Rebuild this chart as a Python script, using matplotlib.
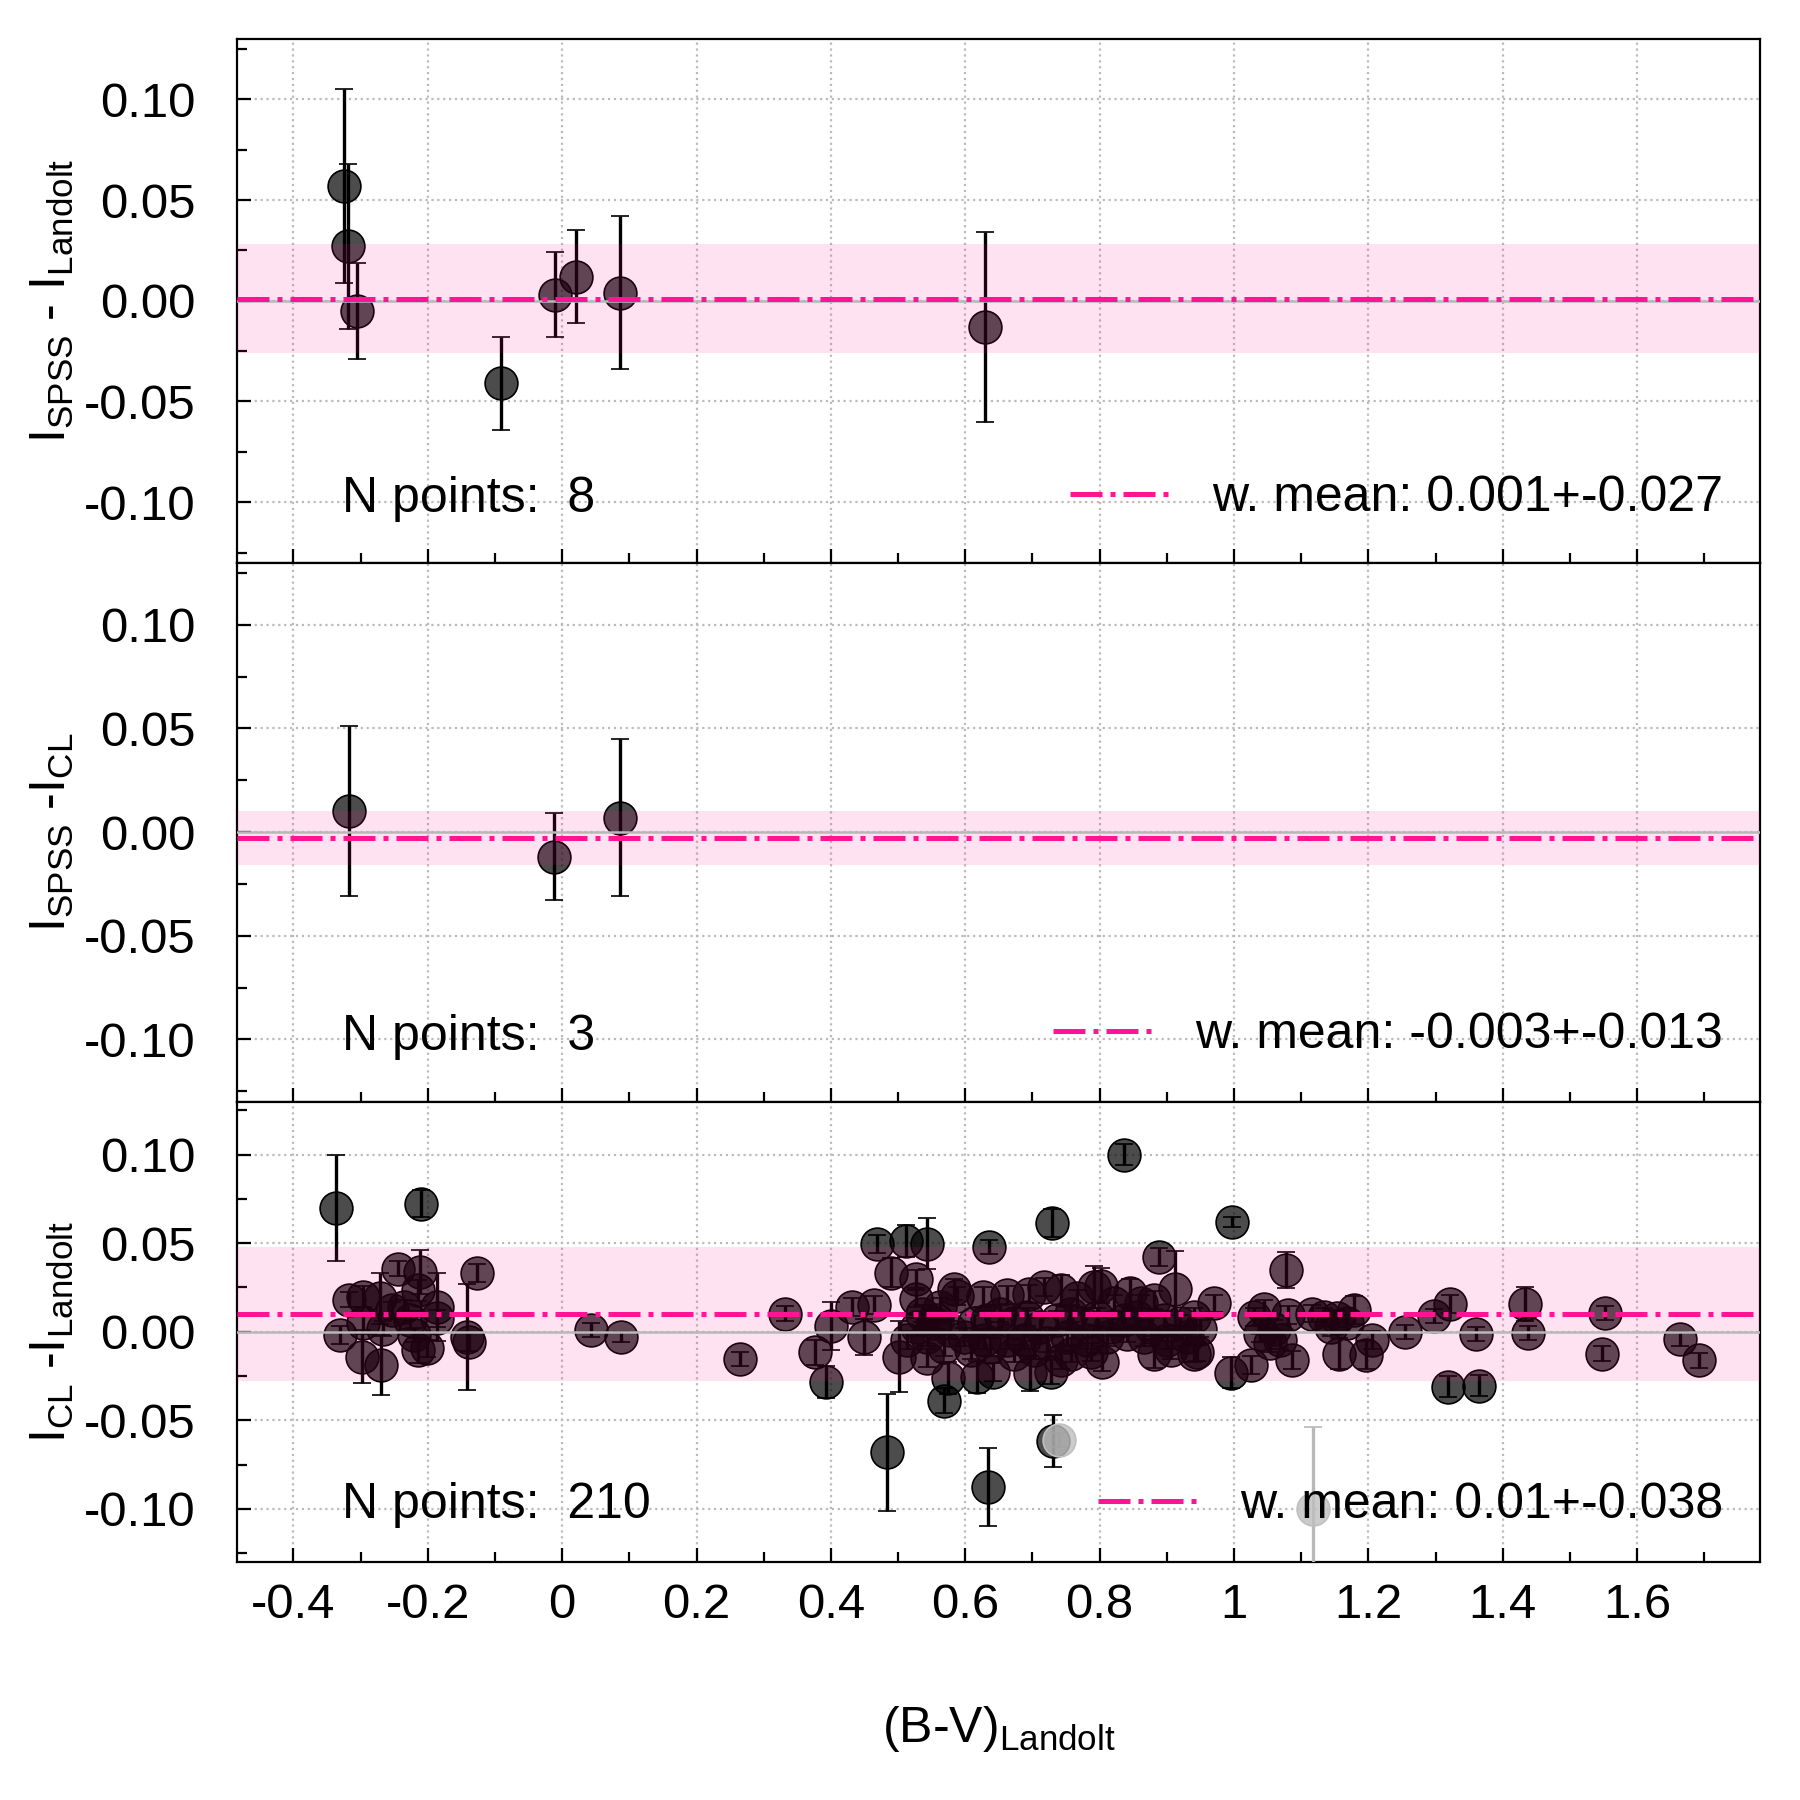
import numpy as np
import matplotlib
matplotlib.use('Agg')
import matplotlib.pyplot as plt
import matplotlib.ticker as ticker
from matplotlib.lines import Line2D

plt.rcParams['font.family'] = ['Liberation Sans', 'DejaVu Sans']
plt.rcParams['axes.unicode_minus'] = False
plt.rcParams['mathtext.fontset'] = 'custom'
plt.rcParams['mathtext.rm'] = 'Liberation Sans'
plt.rcParams['mathtext.default'] = 'regular'

# ---- data ----
# panel 1 : I_SPSS - I_Landolt
bv_1 = [-0.325, -0.319, -0.305, -0.091, -0.011, 0.021, 0.086, 0.630]
d_1 = [0.057, 0.027, -0.005, -0.041, 0.003, 0.012, 0.004, -0.013]
e_1 = [0.048, 0.041, 0.024, 0.023, 0.021, 0.023, 0.038, 0.047]
mean_1, std_1, n_1 = 0.001, 0.027, 8

# panel 2 : I_SPSS - I_CL
bv_2 = [-0.318, -0.012, 0.086]
d_2 = [0.010, -0.012, 0.007]
e_2 = [0.041, 0.021, 0.038]
mean_2, std_2, n_2 = -0.003, 0.013, 3

# panel 3 : I_CL - I_Landolt
bv_3 = [-0.336, -0.2105, -0.245, -0.2115, -0.127, -0.318, -0.296, -0.271, -0.331, -0.296,
        -0.298, -0.2695, -0.266, -0.236, -0.226, -0.214, -0.187, -0.187, -0.214, -0.2015,
        -0.142, -0.139, 0.0427, 0.0874, -0.254, -0.221,
        0.265, 0.331, 0.377, 0.393, 0.400, 0.431, 0.464, 0.449, 0.469, 0.484,
        0.490, 0.501, 0.512, 0.513, 0.527, 0.527, 0.528, 0.536, 0.543, 0.543,
        0.543, 0.553, 0.558, 0.563, 0.568, 0.568, 0.575, 0.578, 0.583, 0.588,
        0.598, 0.608, 0.613, 0.618, 0.627, 0.628, 0.634, 0.636, 0.642,
        0.662, 0.695, 0.717, 0.742, 0.767, 0.792, 0.802, 0.821, 0.845, 0.861,
        0.881, 0.888, 0.912, 0.697, 0.727, 0.757, 0.787, 0.804, 0.881, 0.906,
        0.940, 0.729, 0.731, 0.836,
        0.632, 0.652, 0.672, 0.692, 0.712, 0.737, 0.757, 0.776, 0.796, 0.816,
        0.836, 0.856, 0.876, 0.896, 0.920, 0.940, 0.662, 0.687, 0.722, 0.752,
        0.781, 0.811, 0.841, 0.866, 0.901, 0.930, 0.672, 0.702, 0.742, 0.637,
        0.997, 1.078, 0.970, 1.030, 1.044, 1.081, 1.116, 1.134, 1.154, 1.179,
        1.255, 0.950, 0.945, 0.995, 1.025, 1.087, 1.156, 1.196, 1.206, 1.039,
        1.059, 1.054, 1.069, 1.144, 1.168,
        1.298, 1.322, 1.318, 1.365, 1.361, 1.433, 1.438, 1.553, 1.548, 1.664, 1.692]
d_3 = [0.070, 0.0723, 0.0357, 0.0338, 0.0332, 0.0182, 0.0197, 0.0188, -0.002, 0.0047,
       -0.0141, -0.0188, 0.0018, 0.014, 0.0066, 0.0235, 0.014, 0.0075, -0.0104, -0.0094,
       -0.0029, -0.0057, 0.0009, -0.0029, 0.012, -0.002,
       -0.0156, 0.0103, -0.0117, -0.0283, 0.0033, 0.014, 0.015, -0.003, 0.0494, -0.068,
       0.0334, -0.014, 0.051, -0.0047, 0.0297, 0.0187, 0.0028, 0.0103, 0.0498, -0.0029,
       -0.015, 0.0047, 0.0065, 0.014, -0.039, -0.0085, -0.026, 0.0009, 0.024, 0.020,
       -0.0029, -0.0104, 0.0047, -0.0255, 0.0197, -0.0047, -0.0877, 0.048, -0.0227,
       0.0206, 0.0215, 0.0253, 0.0234, 0.0188, 0.0253, 0.026, 0.016, 0.0216, 0.016,
       0.0178, 0.0422, 0.0244, -0.0235, -0.0227, -0.0123, -0.0113, -0.017, -0.0123, -0.0104,
       -0.0123, 0.0614, -0.0617, 0.100,
       0.0065, 0.0103, 0.0047, 0.0084, 0.0028, 0.0065, 0.0103, 0.0047, 0.0084, 0.0028,
       0.0065, 0.0084, 0.0028, 0.0065, 0.0047, 0.0084, -0.0047, -0.0047, -0.0066, -0.0029,
       -0.0047, -0.0029, -0.001, -0.0029, -0.0047, -0.0029, -0.0123, -0.0104, -0.016, -0.0085,
       0.062, 0.035, 0.016, 0.0084, 0.0131, 0.0094, 0.0103, 0.0084, 0.0075, 0.0122,
       0.0, 0.0018, -0.0113, -0.0232, -0.0189, -0.016, -0.0123, -0.0132, -0.0047, -0.001,
       0.0018, -0.0066, -0.0047, 0.0028, 0.0047,
       0.009, 0.0156, -0.031, -0.0305, -0.0013, 0.0156, -0.0006, 0.0104, -0.0123, -0.004, -0.0162]
e_3 = [0.030, 0.0077, 0.004, 0.0125, 0.005, 0.004, 0.006, 0.0146, 0.005, 0.006,
       0.0149, 0.0169, 0.004, 0.004, 0.005, 0.006, 0.019, 0.005, 0.007, 0.005,
       0.030, 0.005, 0.004, 0.003, 0.005, 0.004,
       0.004, 0.004, 0.007, 0.009, 0.0135, 0.005, 0.005, 0.010, 0.005, 0.033,
       0.0084, 0.020, 0.009, 0.005, 0.005, 0.005, 0.005, 0.005, 0.0146, 0.005,
       0.005, 0.005, 0.005, 0.005, 0.007, 0.005, 0.009, 0.005, 0.006, 0.005,
       0.005, 0.005, 0.005, 0.009, 0.0055, 0.005, 0.022, 0.004, 0.005,
       0.005, 0.005, 0.005, 0.0085, 0.005, 0.012, 0.010, 0.005, 0.008, 0.005,
       0.005, 0.005, 0.021, 0.010, 0.0066, 0.005, 0.005, 0.005, 0.008, 0.005,
       0.005, 0.0077, 0.0146, 0.006,
       0.005, 0.005, 0.005, 0.005, 0.005, 0.005, 0.005, 0.005, 0.005, 0.005,
       0.005, 0.005, 0.005, 0.005, 0.005, 0.005, 0.005, 0.005, 0.005, 0.005,
       0.005, 0.005, 0.005, 0.005, 0.005, 0.005, 0.005, 0.005, 0.005, 0.005,
       0.003, 0.0103, 0.005, 0.005, 0.005, 0.005, 0.005, 0.005, 0.005, 0.008,
       0.004, 0.005, 0.005, 0.0087, 0.005, 0.005, 0.009, 0.008, 0.005, 0.005,
       0.005, 0.005, 0.005, 0.005, 0.005,
       0.004, 0.005, 0.006, 0.006, 0.004, 0.0095, 0.004, 0.004, 0.004, 0.004, 0.004]
# rejected points (grey)
bv_3_rej = [1.118, 0.740]
d_3_rej = [-0.100, -0.061]
e_3_rej = [0.0464, 0.004]
mean_3, std_3, n_3 = 0.01, 0.038, 210

ylabels = [r'I$_{SPSS}$ - I$_{Landolt}$', r'I$_{SPSS}$ -I$_{CL}$', r'I$_{CL}$ -I$_{Landolt}$']

FS = 18.0
FS_TICK = 17.7
pink = '#ff1493'

fig = plt.figure(figsize=(9, 9), dpi=200)
left, width = 237/1800, (1760-237)/1800
ax_1 = fig.add_axes([left, 1-562.6/1800, width, 523.6/1800])
ax_2 = fig.add_axes([left, 1-1101.5/1800, width, 538.9/1800], sharex=ax_1)
ax_3 = fig.add_axes([left, 1-1562/1800, width, 460.5/1800], sharex=ax_1)
axes = [ax_1, ax_2, ax_3]

panels = [(bv_1, d_1, e_1, mean_1, std_1, n_1),
          (bv_2, d_2, e_2, mean_2, std_2, n_2),
          (bv_3, d_3, e_3, mean_3, std_3, n_3)]

for i, (ax, (bv, d, e, m, s, n)) in enumerate(zip(axes, panels)):
    ax.errorbar(bv, d, yerr=e, fmt='o', ms=11.8, mfc=(0, 0, 0, 0.7), mec='k', mew=0.6,
                ecolor='k', elinewidth=1.2, capsize=3.2, capthick=1.2, zorder=3)
    if i == 2:
        eb = ax.errorbar(bv_3_rej, d_3_rej, yerr=e_3_rej, fmt='o', ms=11.8,
                         mfc=(0.75, 0.75, 0.75, 0.8), mec='0.75', mew=0.6,
                         ecolor='0.72', elinewidth=1.2, capsize=3.2, capthick=1.2, zorder=3)
        for c in eb[1]:
            c.set_color('k')
    ax.axhspan(m - s, m + s, color=pink, alpha=0.12, lw=0, zorder=4)
    ax.axhline(0, color='0.72', lw=0.9, zorder=5)
    ax.axhline(m, color=pink, ls='-.', lw=1.8, zorder=6)

    ax.set_ylim(-0.13, 0.13)
    ax.set_xlim(-0.484, 1.783)
    ax.yaxis.set_major_locator(ticker.MultipleLocator(0.05))
    ax.yaxis.set_minor_locator(ticker.MultipleLocator(0.025))
    ax.yaxis.set_major_formatter(ticker.FormatStrFormatter('%.2f'))
    ax.xaxis.set_major_locator(ticker.MultipleLocator(0.2))
    ax.xaxis.set_minor_locator(ticker.MultipleLocator(0.1))
    ax.xaxis.set_major_formatter(ticker.FormatStrFormatter('%g'))
    ax.tick_params(which='both', direction='in', width=0.8, top=False, right=False)
    ax.tick_params(which='major', length=5.2)
    ax.tick_params(which='minor', length=3.6)
    ax.tick_params(axis='y', labelsize=FS_TICK, pad=15)
    ax.tick_params(axis='x', labelsize=FS_TICK, pad=7.5)
    ax.grid(which='major', color='#bbbbbb', linestyle=':', linewidth=0.8)
    ax.set_axisbelow(True)
    for sp in ax.spines.values():
        sp.set_linewidth(0.8)

    ax.set_ylabel(ylabels[i], fontsize=FS)
    ax.yaxis.set_label_coords(-0.106, 0.5)

    ax.text(-0.327, -0.105, 'N points:  %d' % n, fontsize=FS, ha='left', va='baseline')
    h = Line2D([], [], color=pink, ls='-.', lw=1.8)
    ax.legend([h], ['w. mean: %g+-%g' % (m, s)], loc='center right',
              bbox_to_anchor=(0.976, -0.098), bbox_transform=ax.get_yaxis_transform(),
              frameon=False, fontsize=FS, borderpad=0, borderaxespad=0,
              handlelength=2.0, handletextpad=0.85)

ax_1.tick_params(axis='x', labelbottom=False)
ax_2.tick_params(axis='x', labelbottom=False)
ax_3.set_xlabel(r'(B-V)$_{Landolt}$', fontsize=FS, labelpad=27.5)

fig.savefig('out.png', dpi=200)
